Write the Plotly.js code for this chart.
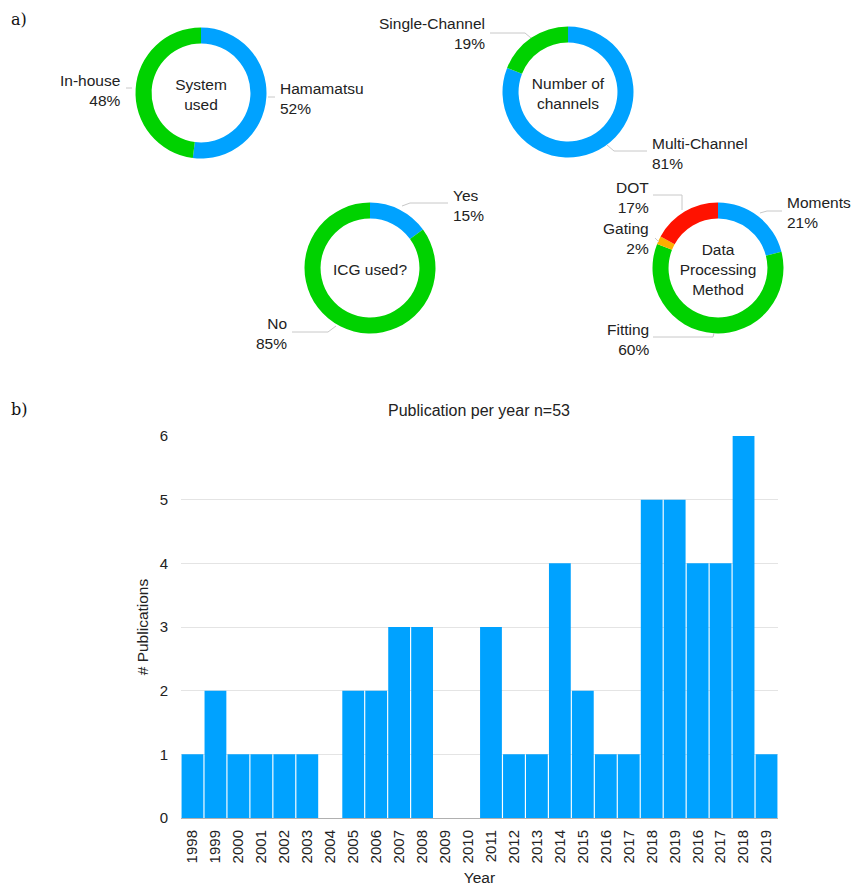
<!DOCTYPE html>
<html>
<head>
<meta charset="utf-8">
<script src="https://cdn.plot.ly/plotly-3.0.1.min.js"></script>
<style>
  html, body { margin: 0; padding: 0; background: #fff; }
  #chart { width: 851px; height: 886px; }
</style>
</head>
<body>
<div id="chart"></div>
<script>
// ---- Survey breakdowns (percent of publications) ----
const systemLabels   = ['Hamamatsu', 'In-house'];
const systemValues   = [52, 48];

const channelLabels  = ['Multi-Channel', 'Single-Channel'];
const channelValues  = [81, 19];

const icgLabels      = ['Yes', 'No'];
const icgValues      = [15, 85];

const methodLabels   = ['Moments', 'Fitting', 'Gating', 'DOT'];
const methodValues   = [21, 60, 2, 17];

// ---- Publications per year ----
const years = ['1998','1999','2000','2001','2002','2003','2004','2005','2006','2007',
               '2008','2009','2010','2011','2012','2013','2014','2015','2016','2017',
               '2018','2019','2016','2017','2018','2019'];
const publications = [1, 2, 1, 1, 1, 1, 0, 2, 2, 3,
                      3, 0, 0, 3, 1, 1, 4, 2, 1, 1,
                      5, 5, 4, 4, 6, 1];

// ---- Styling ----
const W = 851, H = 886;
const BLUE = '#00a2ff', GREEN = '#00d200', RED = '#ff1200', ORANGE = '#ffae00';
const FONT = 'Liberation Sans, Arial, Helvetica, sans-serif';
const TXT = '#222';
const LEAD = '#c8c8c8';

// pixel -> paper helpers (layout has zero margins)
const px = x => x / W;
const py = y => 1 - y / H;

const R = 65.5;
function domainAt(cx, cy) {
  return { x: [px(cx - R), px(cx + R)], y: [py(cy + R), py(cy - R)] };
}

function donut(labels, values, colors, cx, cy, title) {
  return {
    type: 'pie',
    labels: labels,
    values: values,
    sort: false,
    direction: 'clockwise',
    rotation: 0,
    hole: 0.755,
    textinfo: 'none',
    hoverinfo: 'label+percent',
    marker: { colors: colors, line: { width: 0 } },
    domain: domainAt(cx, cy),
    title: { text: title, position: 'middle center', font: { family: FONT, size: 15.5, color: TXT } },
    showlegend: false
  };
}

const traces = [
  donut(systemLabels,  systemValues,  [BLUE, GREEN], 201, 93, 'System<br>used'),
  donut(channelLabels, channelValues, [BLUE, GREEN], 568, 92, 'Number of<br>channels'),
  donut(icgLabels,     icgValues,     [BLUE, GREEN], 370, 268, 'ICG used?'),
  donut(methodLabels,  methodValues,  [BLUE, GREEN, ORANGE, RED], 718, 268, 'Data<br>Processing<br>Method'),
  {
    type: 'bar',
    x: years.map((_, i) => i),
    y: publications,
    marker: { color: BLUE, line: { width: 0 } },
    hovertext: years,
    hoverinfo: 'text+y',
    xaxis: 'x', yaxis: 'y',
    showlegend: false
  }
];

// Outside slice labels: "<label><br><value>%"
function sliceLabel(labels, values, name, x, y, side) {
  const i = labels.indexOf(name);
  return {
    xref: 'paper', yref: 'paper',
    x: px(x), y: py(y),
    xanchor: side, yanchor: 'middle',
    align: side,
    showarrow: false,
    text: labels[i] + '<br>' + values[i] + '%',
    font: { family: FONT, size: 15.5, color: TXT }
  };
}

const annotations = [
  sliceLabel(systemLabels, systemValues, 'In-house', 123, 90, 'right'),
  sliceLabel(systemLabels, systemValues, 'Hamamatsu', 278, 98, 'left'),
  sliceLabel(channelLabels, channelValues, 'Single-Channel', 487, 33, 'right'),
  sliceLabel(channelLabels, channelValues, 'Multi-Channel', 650, 154, 'left'),
  sliceLabel(icgLabels, icgValues, 'Yes', 451, 205, 'left'),
  sliceLabel(icgLabels, icgValues, 'No', 289, 334, 'right'),
  sliceLabel(methodLabels, methodValues, 'DOT', 651, 197, 'right'),
  sliceLabel(methodLabels, methodValues, 'Gating', 651, 239, 'right'),
  sliceLabel(methodLabels, methodValues, 'Moments', 785, 213, 'left'),
  sliceLabel(methodLabels, methodValues, 'Fitting', 651, 339, 'right'),
  // panel letters
  { xref: 'paper', yref: 'paper', x: px(9), y: py(20), xanchor: 'left', yanchor: 'middle',
    showarrow: false, text: 'a)', font: { family: 'DejaVu Serif, Liberation Serif, serif', size: 16, color: '#111' } },
  { xref: 'paper', yref: 'paper', x: px(9), y: py(409), xanchor: 'left', yanchor: 'middle',
    showarrow: false, text: 'b)', font: { family: 'DejaVu Serif, Liberation Serif, serif', size: 16, color: '#111' } }
];

// Leader lines from each ring to its label
function leader(points) {
  let d = 'M ' + px(points[0][0]) + ' ' + py(points[0][1]);
  for (let k = 1; k < points.length; k++) d += ' L ' + px(points[k][0]) + ' ' + py(points[k][1]);
  return { type: 'path', xref: 'paper', yref: 'paper', path: d, line: { color: LEAD, width: 1 } };
}

const shapes = [
  leader([[126, 88], [132, 88]]),
  leader([[268, 97], [275, 97]]),
  leader([[490, 33], [525, 33], [531, 38]]),
  leader([[607, 145], [614, 151], [647, 151]]),
  leader([[402, 206], [410, 203], [448, 203]]),
  leader([[292, 332], [328, 332], [336, 326]]),
  leader([[653, 195], [682, 195], [682, 210]]),
  leader([[655, 238], [659, 242]]),
  leader([[760, 213], [767, 211], [782, 211]]),
  leader([[653, 337], [713, 337], [714, 333]])
];

const layout = {
  width: W, height: H,
  margin: { l: 0, r: 0, t: 0, b: 0 },
  paper_bgcolor: '#fff',
  plot_bgcolor: '#fff',
  font: { family: FONT, color: TXT },
  title: {
    text: 'Publication per year n=53',
    xref: 'paper', yref: 'paper',
    x: px(479), y: py(410), xanchor: 'center', yanchor: 'middle',
    font: { family: FONT, size: 16, color: TXT }
  },
  bargap: 0.05,
  xaxis: {
    domain: [px(181), px(778)],
    range: [-0.5, years.length - 0.5],
    tickmode: 'array',
    tickvals: years.map((_, i) => i),
    ticktext: years,
    tickangle: -90,
    ticks: 'outside', ticklen: 5, tickcolor: 'rgba(0,0,0,0)',
    tickfont: { family: FONT, size: 15, color: TXT },
    showgrid: false,
    showline: true, linecolor: '#b0b0b0', linewidth: 1,
    zeroline: false,
    fixedrange: true,
    automargin: false,
    title: { text: 'Year', standoff: 10, font: { family: FONT, size: 15.5, color: TXT } }
  },
  yaxis: {
    domain: [py(818), py(436)],
    range: [0, 6],
    dtick: 1,
    ticks: 'outside', ticklen: 9, tickcolor: 'rgba(0,0,0,0)',
    tickfont: { family: FONT, size: 15, color: TXT },
    showgrid: true, gridcolor: '#e4e4e4', gridwidth: 1,
    zeroline: false,
    showline: false,
    fixedrange: true,
    automargin: false,
    title: { text: '# Publications', standoff: 7, font: { family: FONT, size: 15.5, color: TXT } }
  },
  annotations: annotations,
  shapes: shapes
};

Plotly.newPlot('chart', traces, layout, { displayModeBar: false, staticPlot: true });
</script>
</body>
</html>
